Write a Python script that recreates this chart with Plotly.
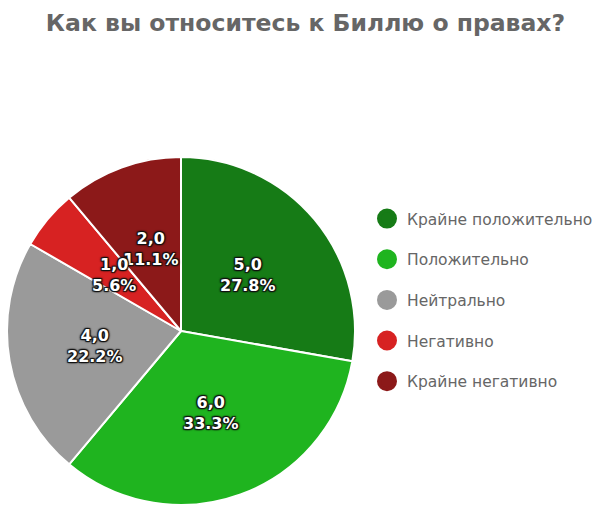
import math
import plotly.graph_objects as go

title = "Как вы относитесь к Биллю о правах?"
categories = ["Крайне положительно", "Положительно", "Нейтрально", "Негативно", "Крайне негативно"]
values = [5, 6, 4, 1, 2]
colors = ["#167b16", "#1fb41f", "#9a9a9a", "#d72222", "#8c1919"]

W, H = 611, 514
cx, cy_top, R = 181, 331, 174  # pie centre (px from left / top) and radius
cy = H - cy_top

fig = go.Figure()
fig.add_trace(go.Pie(
    labels=categories, values=values, sort=False, direction="clockwise", rotation=0,
    marker=dict(colors=colors, line=dict(color="white", width=2)),
    textinfo="none", hoverinfo="label+value+percent", showlegend=False,
    domain=dict(x=[(cx - R) / W, (cx + R) / W], y=[(cy - R) / H, (cy + R) / H]),
))

# legend entries with round markers
for name, col in zip(categories, colors):
    fig.add_trace(go.Scatter(x=[None], y=[None], mode="markers", name=name,
                             marker=dict(color=col, size=16, symbol="circle",
                                         line=dict(color=col, width=4)),
                             legendgroup=name, showlegend=True))

total = sum(values)
anns = []
cum = 0
for v in values:
    mid = (cum + v / 2) / total * 2 * math.pi
    cum += v
    px = cx + 0.5 * R * math.sin(mid)
    py = cy + 0.5 * R * math.cos(mid)
    txt = f"{v:.1f}".replace(".", ",") + "<br>" + f"{v / total * 100:.1f}%"
    anns.append(dict(x=px / W, y=py / H, xref="paper", yref="paper", text=txt,
                     showarrow=False, xanchor="center", yanchor="middle",
                     font=dict(family="DejaVu Sans", size=16, color="white", weight="bold",
                               shadow="-1px -1px 1px #111, 1px -1px 1px #111, -1px 1px 1px #111, 1px 1px 1px #111, 0 0 3px #000")))
anns.reverse()

fig.update_layout(
    width=W, height=H, autosize=False,
    margin=dict(l=0, r=0, t=0, b=0),
    paper_bgcolor="white", plot_bgcolor="white",
    title=dict(text=title, x=0.5, xanchor="center", y=1 - 23 / H, yanchor="middle",
               font=dict(family="DejaVu Sans", size=23.5, color="#666666", weight="bold")),
    xaxis=dict(visible=False), yaxis=dict(visible=False),
    legend=dict(x=367 / W, y=1 - 202 / H, xanchor="left", yanchor="top",
                font=dict(family="DejaVu Sans", size=15.5, color="#666666"),
                tracegroupgap=17.5, bgcolor="rgba(0,0,0,0)"),
    annotations=anns,
)

fig.write_html("out.html")
